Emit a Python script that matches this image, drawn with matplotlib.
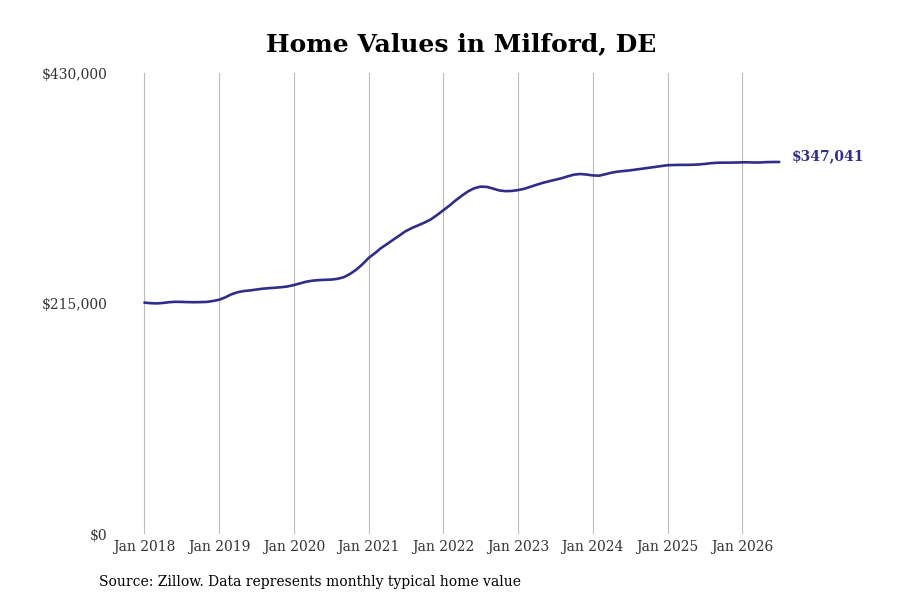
import pandas as pd
import matplotlib
matplotlib.use("Agg")
import matplotlib.pyplot as plt
import matplotlib.dates as mdates
from matplotlib.ticker import FuncFormatter

# monthly typical home value, Jan 2018 .. Jul 2026
values_2018 = [215800, 215300, 215100, 215500, 216200, 216600, 216500, 216300, 216200, 216300, 216500, 217300]
values_2019 = [218500, 220800, 223500, 225500, 226600, 227200, 228000, 228800, 229300, 229700, 230200, 230900]
values_2020 = [232200, 233800, 235300, 236300, 236800, 237100, 237300, 238000, 239500, 242500, 246500, 251500]
values_2021 = [257500, 262000, 266500, 270500, 274500, 278500, 282500, 285500, 288000, 290500, 293500, 297500]
values_2022 = [302000, 306500, 311000, 315500, 319500, 322500, 324000, 323800, 322200, 320500, 319800, 320000]
values_2023 = [320800, 322000, 323800, 325700, 327500, 329000, 330400, 331800, 333600, 335200, 335800, 335300]
values_2024 = [334500, 334200, 335500, 337000, 338000, 338600, 339200, 340000, 340800, 341600, 342400, 343200]
values_2025 = [344000, 344200, 344300, 344300, 344400, 344700, 345200, 345900, 346300, 346400, 346400, 346500]
values_2026 = [346700, 346700, 346500, 346600, 346900, 347000, 347041]

values = (values_2018 + values_2019 + values_2020 + values_2021 + values_2022
          + values_2023 + values_2024 + values_2025 + values_2026)
dates = pd.date_range("2018-01-01", periods=len(values), freq="MS")

y_ticks = [0, 215000, 430000]
line_color = "#2e2e88"

plt.rcParams["font.family"] = ["DejaVu Serif"]

fig = plt.figure(figsize=(9, 6), dpi=100)
ax = fig.add_axes([0.13, 0.11, 0.76, 0.7683])

ax.plot(dates, values, color=line_color, linewidth=1.9, solid_capstyle="round")

ax.set_ylim(0, 430000)
ax.set_xlim(pd.Timestamp("2017-08-20"), pd.Timestamp("2026-10-15"))
ax.set_yticks(y_ticks)
ax.yaxis.set_major_formatter(FuncFormatter(lambda v, p: f"${v:,.0f}"))
ax.xaxis.set_major_locator(mdates.YearLocator(month=1, day=1))
ax.xaxis.set_major_formatter(mdates.DateFormatter("Jan %Y"))

ax.grid(axis="x", color="#bbbbbb", linewidth=0.8)
ax.grid(axis="y", visible=False)
for s in ax.spines.values():
    s.set_visible(False)
ax.tick_params(axis="both", length=0, labelsize=10, colors="#333333")
ax.tick_params(axis="y", pad=7)
ax.tick_params(axis="x", pad=4)

last = values[-1]
ax.annotate(f"${last:,.0f}", xy=(dates[-1], last), xytext=(9, 4),
            textcoords="offset points", color=line_color, fontsize=10,
            fontweight="bold", va="center", ha="left", annotation_clip=False)

fig.text(0.512, 0.927, "Home Values in Milford, DE", ha="center", va="center",
         fontsize=18, fontweight="bold")
fig.text(0.11, 0.03, "Source: Zillow. Data represents monthly typical home value",
         ha="left", va="center", fontsize=10)

fig.savefig("out.png", dpi=100)
